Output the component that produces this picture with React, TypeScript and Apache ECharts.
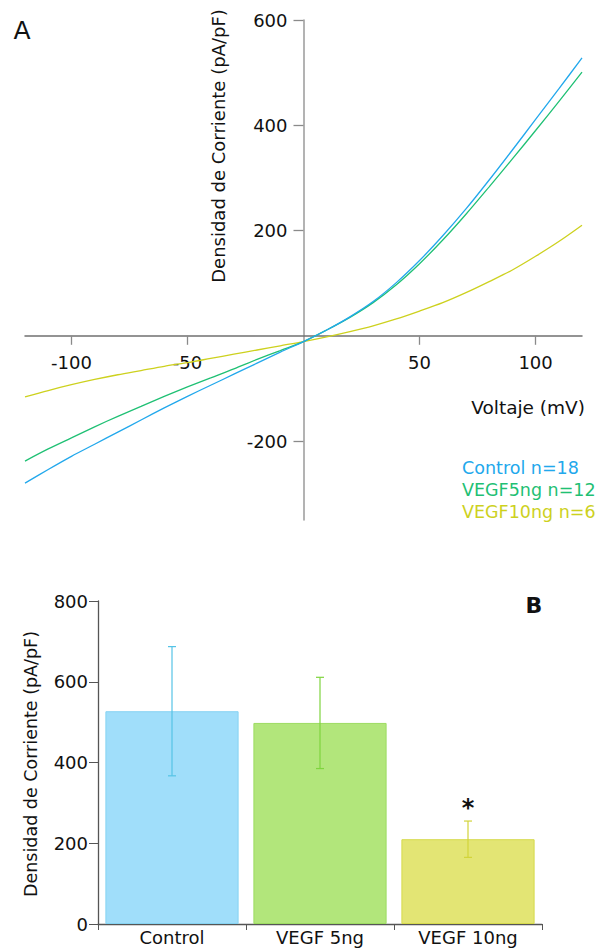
import React, { useEffect, useRef } from "react";
import * as echarts from "echarts";

// I-V curves (panel A)
const VOLTAGES = [-120, -110, -100, -90, -80, -70, -60, -50, -40, -30, -20, -10, 0, 10, 20, 30, 40, 50, 60, 70, 80, 90, 100, 110, 120];
const CONTROL = [-280, -254, -229, -206, -183, -160, -137, -115, -94, -73, -52, -31, -11, 11, 36, 65, 101, 143, 190, 241, 296, 353, 411, 469, 528];
const VEGF5 = [-238, -215, -194, -173, -153, -134, -115, -97, -80, -63, -45, -28, -11, 11, 35, 63, 97, 137, 182, 231, 283, 336, 390, 445, 501];
const VEGF10 = [-116, -104, -93, -83, -74, -66, -58, -51, -43, -35, -27, -19, -11, -2, 8, 19, 32, 47, 63, 82, 103, 125, 151, 179, 210];
const CURVE_NAMES = ["Control n=18", "VEGF5ng n=12", "VEGF10ng n=6"];
const CURVE_COLORS = ["#22a8ec", "#1fc074", "#cdd11e"];
const X_TICKS_A = [-100, -50, 50, 100];
const Y_TICKS_A = [-200, 200, 400, 600];

// Peak current density at +120 mV (panel B)
const GROUPS = ["Control", "VEGF 5ng", "VEGF 10ng"];
const MEANS = [527, 498, 210];
const SEMS = [160, 113, 45];
const SIGNIFICANT = [false, false, true];
const BAR_FILLS = ["#a0defa", "#b2e67b", "#e3e574"];
const BAR_BORDERS = ["#86d3f2", "#9ddc62", "#d6da4c"];
const ERR_COLORS = ["#55c3e6", "#7fd43e", "#d2d43a"];

const FONT = "DejaVu Sans";
const YNAME = "Densidad de Corriente (pA/pF)";

// Panel A plot box; the axes cross at the origin inside it
const A_LEFT = 25;
const A_TOP = 20;
const A_W = 557;
const A_H = 500;
const X_MIN = -120;
const X_MAX = 120;
const Y_MIN = -350;
const Y_MAX = 600;

export default function App() {
  const ref = useRef<HTMLDivElement>(null);

  useEffect(() => {
    if (!ref.current) return;
    const chart = echarts.init(ref.current, null, { renderer: "svg" });

    // shift the axes from the box edges to the zero lines
    const xAxisShift = -(A_H * (0 - Y_MIN)) / (Y_MAX - Y_MIN);
    const yAxisShift = -(A_W * (0 - X_MIN)) / (X_MAX - X_MIN);

    const curves = [CONTROL, VEGF5, VEGF10].map((vals, k) => ({
      type: "line",
      name: CURVE_NAMES[k],
      xAxisIndex: 0,
      yAxisIndex: 0,
      data: VOLTAGES.map((v, i) => [v, vals[i]]),
      smooth: 0.3,
      showSymbol: false,
      symbol: "none",
      lineStyle: { color: CURVE_COLORS[k], width: 1.3 },
      z: 3 - k,
    }));

    const option: any = {
      animation: false,
      backgroundColor: "#ffffff",
      textStyle: { fontFamily: FONT },
      grid: [
        { left: A_LEFT, top: A_TOP, width: A_W, height: A_H, containLabel: false, outerBoundsMode: "none" },
        { left: 98, top: 601, width: 444, height: 323, containLabel: false, outerBoundsMode: "none" },
      ],
      xAxis: [
        {
          type: "value",
          gridIndex: 0,
          position: "bottom",
          offset: xAxisShift,
          min: X_MIN,
          max: X_MAX,
          splitLine: { show: false },
          axisLine: { onZero: false, lineStyle: { color: "#707070", width: 1.5 } },
          axisTick: { show: true, length: 9, customValues: X_TICKS_A, lineStyle: { color: "#8a8a8a", width: 1.3 } },
          axisLabel: { customValues: X_TICKS_A, margin: 18, fontSize: 18, color: "#111", fontFamily: FONT },
        },
        {
          type: "category",
          gridIndex: 1,
          data: GROUPS,
          boundaryGap: true,
          axisLine: { lineStyle: { color: "#555", width: 1.3 } },
          axisTick: { show: true, length: 6, alignWithLabel: false, lineStyle: { color: "#555" } },
          axisLabel: { margin: 4, fontSize: 18, color: "#111", fontFamily: FONT },
        },
      ],
      yAxis: [
        {
          type: "value",
          gridIndex: 0,
          position: "left",
          offset: yAxisShift,
          min: Y_MIN,
          max: Y_MAX,
          splitLine: { show: false },
          axisLine: { show: true, onZero: false, lineStyle: { color: "#9a9a9a", width: 1.5 } },
          axisTick: { show: true, length: 10, customValues: Y_TICKS_A, lineStyle: { color: "#8a8a8a", width: 1.3 } },
          axisLabel: { customValues: Y_TICKS_A, margin: 16, fontSize: 18, color: "#111", fontFamily: FONT },
        },
        {
          type: "value",
          gridIndex: 1,
          min: 0,
          max: 800,
          interval: 200,
          splitLine: { show: false },
          axisLine: { show: true, lineStyle: { color: "#555", width: 1.3 } },
          axisTick: { show: true, length: 9, lineStyle: { color: "#555" } },
          axisLabel: { margin: 10, fontSize: 18, color: "#111", fontFamily: FONT },
        },
      ],
      series: [
        ...curves,
        {
          type: "bar",
          xAxisIndex: 1,
          yAxisIndex: 1,
          barCategoryGap: "10%",
          data: MEANS.map((m, i) => ({
            value: m,
            itemStyle: { color: BAR_FILLS[i], borderColor: BAR_BORDERS[i], borderWidth: 1 },
          })),
          z: 2,
        },
        {
          type: "custom",
          xAxisIndex: 1,
          yAxisIndex: 1,
          z: 5,
          encode: { x: 0, y: 1 },
          data: GROUPS.map((_, i) => [i, MEANS[i], SEMS[i], SIGNIFICANT[i] ? 1 : 0]),
          renderItem: (params: any, api: any) => {
            const i = api.value(0);
            const m = api.value(1);
            const e = api.value(2);
            const top = api.coord([i, m + e]);
            const bot = api.coord([i, m - e]);
            const hw = 4;
            const stroke = { stroke: ERR_COLORS[i], lineWidth: 1.2 };
            const children: any[] = [
              { type: "line", shape: { x1: top[0], y1: top[1], x2: bot[0], y2: bot[1] }, style: stroke },
              { type: "line", shape: { x1: top[0] - hw, y1: top[1], x2: top[0] + hw, y2: top[1] }, style: stroke },
              { type: "line", shape: { x1: bot[0] - hw, y1: bot[1], x2: bot[0] + hw, y2: bot[1] }, style: stroke },
            ];
            if (api.value(3) === 1) {
              children.push({
                type: "text",
                x: top[0],
                y: top[1] - 1,
                style: {
                  text: "*",
                  fontSize: 24,
                  fontWeight: "bold",
                  fontFamily: FONT,
                  fill: "#111",
                  textAlign: "center",
                  textVerticalAlign: "bottom",
                },
              });
            }
            return { type: "group", children };
          },
        },
      ],
      graphic: [
        { type: "text", x: 22, y: 30, style: { text: "A", fontSize: 25, fontFamily: FONT, fill: "#111", textAlign: "center", textVerticalAlign: "middle" } },
        { type: "text", x: 534, y: 605, style: { text: "B", fontSize: 22, fontWeight: "bold", fontFamily: FONT, fill: "#111", textAlign: "center", textVerticalAlign: "middle" } },
        { type: "text", x: 218, y: 146, rotation: Math.PI / 2, style: { text: YNAME, fontSize: 18, fontFamily: FONT, fill: "#111", textAlign: "center", textVerticalAlign: "middle" } },
        { type: "text", x: 31, y: 764, rotation: Math.PI / 2, style: { text: YNAME, fontSize: 17.5, fontFamily: FONT, fill: "#111", textAlign: "center", textVerticalAlign: "middle" } },
        { type: "text", x: 585, y: 407, style: { text: "Voltaje (mV)", fontSize: 18.5, fontFamily: FONT, fill: "#111", textAlign: "right", textVerticalAlign: "middle" } },
        ...CURVE_NAMES.map((n, k) => ({
          type: "text",
          x: 462,
          y: 468 + k * 22,
          style: { text: n, fontSize: 17.5, fontFamily: FONT, fill: CURVE_COLORS[k], textAlign: "left", textVerticalAlign: "middle" },
        })),
      ],
    };

    chart.setOption(option);
    return () => chart.dispose();
  }, []);

  return <div ref={ref} style={{ position: "absolute", left: 0, top: 0, width: 599, height: 950 }} />;
}
